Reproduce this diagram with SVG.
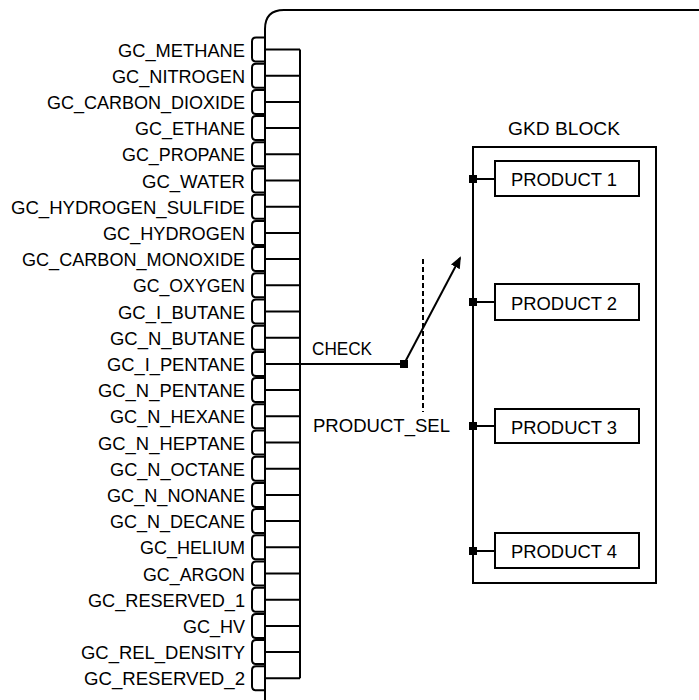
<svg xmlns="http://www.w3.org/2000/svg" width="699" height="700" viewBox="0 0 699 700">
<style>
.ln{fill:none;stroke:#000;stroke-width:2}
.t{font-family:"Liberation Sans",Arial,sans-serif;font-size:19px;fill:#000}
.lbl{text-anchor:end}
</style>
<defs>
<path id="brk" d="M265,-12 H256 Q252,-12 252,-8 V8 Q252,12 256,12 H265 M265,0 H300" class="ln"/>
<marker id="arr" markerWidth="12" markerHeight="10" refX="10" refY="5" orient="auto" markerUnits="userSpaceOnUse">
<path d="M0,0 L12,5 L0,10 Z" fill="#000"/>
</marker>
</defs>
<rect width="699" height="700" fill="#fff"/>
<g id="outer-box">
<path class="ln" d="M699,10 H284 Q265,10 265,29 V700"/>
</g>
<g id="gc-inputs">
<use href="#brk" y="49.5"/><text class="t lbl" x="245" y="56.5" textLength="127" lengthAdjust="spacingAndGlyphs">GC_METHANE</text>
<use href="#brk" y="75.7"/><text class="t lbl" x="245" y="82.7" textLength="133" lengthAdjust="spacingAndGlyphs">GC_NITROGEN</text>
<use href="#brk" y="101.9"/><text class="t lbl" x="245" y="108.9" textLength="198" lengthAdjust="spacingAndGlyphs">GC_CARBON_DIOXIDE</text>
<use href="#brk" y="128.1"/><text class="t lbl" x="245" y="135.1" textLength="110" lengthAdjust="spacingAndGlyphs">GC_ETHANE</text>
<use href="#brk" y="154.3"/><text class="t lbl" x="245" y="161.3" textLength="123" lengthAdjust="spacingAndGlyphs">GC_PROPANE</text>
<use href="#brk" y="180.5"/><text class="t lbl" x="245" y="187.5" textLength="103" lengthAdjust="spacingAndGlyphs">GC_WATER</text>
<use href="#brk" y="206.7"/><text class="t lbl" x="245" y="213.7" textLength="234" lengthAdjust="spacingAndGlyphs">GC_HYDROGEN_SULFIDE</text>
<use href="#brk" y="232.9"/><text class="t lbl" x="245" y="239.9" textLength="142" lengthAdjust="spacingAndGlyphs">GC_HYDROGEN</text>
<use href="#brk" y="259.1"/><text class="t lbl" x="245" y="266.1" textLength="223" lengthAdjust="spacingAndGlyphs">GC_CARBON_MONOXIDE</text>
<use href="#brk" y="285.3"/><text class="t lbl" x="245" y="292.3" textLength="112" lengthAdjust="spacingAndGlyphs">GC_OXYGEN</text>
<use href="#brk" y="311.5"/><text class="t lbl" x="245" y="318.5" textLength="127" lengthAdjust="spacingAndGlyphs">GC_I_BUTANE</text>
<use href="#brk" y="337.7"/><text class="t lbl" x="245" y="344.7" textLength="135" lengthAdjust="spacingAndGlyphs">GC_N_BUTANE</text>
<use href="#brk" y="363.9"/><text class="t lbl" x="245" y="370.9" textLength="138" lengthAdjust="spacingAndGlyphs">GC_I_PENTANE</text>
<use href="#brk" y="390.1"/><text class="t lbl" x="245" y="397.1" textLength="147" lengthAdjust="spacingAndGlyphs">GC_N_PENTANE</text>
<use href="#brk" y="416.3"/><text class="t lbl" x="245" y="423.3" textLength="135" lengthAdjust="spacingAndGlyphs">GC_N_HEXANE</text>
<use href="#brk" y="442.5"/><text class="t lbl" x="245" y="449.5" textLength="147" lengthAdjust="spacingAndGlyphs">GC_N_HEPTANE</text>
<use href="#brk" y="468.7"/><text class="t lbl" x="245" y="475.7" textLength="135" lengthAdjust="spacingAndGlyphs">GC_N_OCTANE</text>
<use href="#brk" y="494.9"/><text class="t lbl" x="245" y="501.9" textLength="138" lengthAdjust="spacingAndGlyphs">GC_N_NONANE</text>
<use href="#brk" y="521.1"/><text class="t lbl" x="245" y="528.1" textLength="135" lengthAdjust="spacingAndGlyphs">GC_N_DECANE</text>
<use href="#brk" y="547.3"/><text class="t lbl" x="245" y="554.3" textLength="105" lengthAdjust="spacingAndGlyphs">GC_HELIUM</text>
<use href="#brk" y="573.5"/><text class="t lbl" x="245" y="580.5" textLength="102" lengthAdjust="spacingAndGlyphs">GC_ARGON</text>
<use href="#brk" y="599.7"/><text class="t lbl" x="245" y="606.7" textLength="157" lengthAdjust="spacingAndGlyphs">GC_RESERVED_1</text>
<use href="#brk" y="625.9"/><text class="t lbl" x="245" y="632.9" textLength="62" lengthAdjust="spacingAndGlyphs">GC_HV</text>
<use href="#brk" y="652.1"/><text class="t lbl" x="245" y="659.1" textLength="164" lengthAdjust="spacingAndGlyphs">GC_REL_DENSITY</text>
<use href="#brk" y="678.3"/><text class="t lbl" x="245" y="685.3" textLength="161" lengthAdjust="spacingAndGlyphs">GC_RESERVED_2</text>
</g>
<g id="connectors">
<line class="ln" x1="300" y1="49.5" x2="300" y2="678.3"/>
<line class="ln" x1="300" y1="363.9" x2="404" y2="363.9"/>
<rect x="400" y="360" width="8" height="8" fill="#000"/>
<line class="ln" x1="404" y1="364" x2="460" y2="258" marker-end="url(#arr)"/>
<line class="ln" x1="423" y1="259" x2="423" y2="412" stroke-dasharray="5 3"/>
<line class="ln" x1="473" y1="179" x2="495" y2="179"/>
<line class="ln" x1="473" y1="302" x2="495" y2="302"/>
<line class="ln" x1="473" y1="426" x2="495" y2="426"/>
<line class="ln" x1="473" y1="551" x2="495" y2="551"/>
<rect x="469" y="175" width="8" height="8" fill="#000"/>
<rect x="469" y="298" width="8" height="8" fill="#000"/>
<rect x="469" y="422" width="8" height="8" fill="#000"/>
<rect x="469" y="547" width="8" height="8" fill="#000"/>
</g>
<g id="check-label">
<text class="t" x="312" y="355" textLength="60" lengthAdjust="spacingAndGlyphs">CHECK</text>
</g>
<g id="product-sel-label">
<text class="t" x="313" y="432" textLength="137" lengthAdjust="spacingAndGlyphs">PRODUCT_SEL</text>
</g>
<g id="gkd-block">
<text class="t" x="508" y="135" textLength="112" lengthAdjust="spacingAndGlyphs">GKD  BLOCK</text>
<rect class="ln" x="473" y="147" width="183" height="436"/>
</g>
<g id="product-1">
<rect class="ln" x="495" y="161" width="144" height="35"/>
<text class="t" x="511" y="186" textLength="106" lengthAdjust="spacingAndGlyphs">PRODUCT 1</text>
</g>
<g id="product-2">
<rect class="ln" x="495" y="284" width="144" height="36"/>
<text class="t" x="511" y="310" textLength="106" lengthAdjust="spacingAndGlyphs">PRODUCT 2</text>
</g>
<g id="product-3">
<rect class="ln" x="495" y="409" width="144" height="34"/>
<text class="t" x="511" y="434" textLength="106" lengthAdjust="spacingAndGlyphs">PRODUCT 3</text>
</g>
<g id="product-4">
<rect class="ln" x="495" y="533" width="144" height="35"/>
<text class="t" x="511" y="558" textLength="106" lengthAdjust="spacingAndGlyphs">PRODUCT 4</text>
</g>
</svg>
